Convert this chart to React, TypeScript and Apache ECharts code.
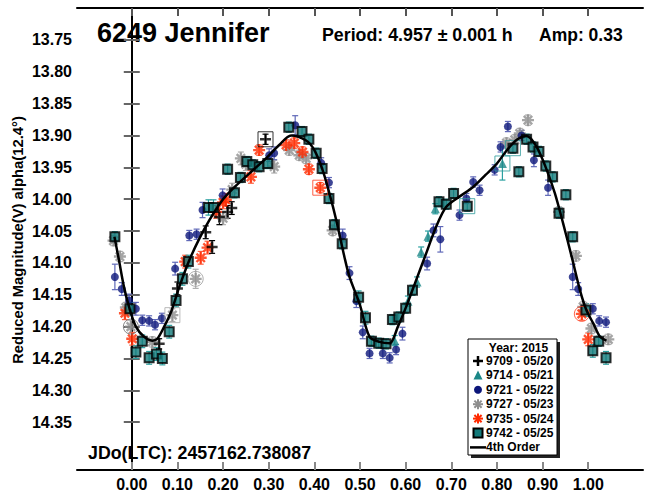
import React, { useEffect, useRef } from 'react';
import * as echarts from 'echarts';

const xTicks = [0, 0.1, 0.2, 0.3, 0.4, 0.5, 0.6, 0.7, 0.8, 0.9, 1.0];
const yTicks = [13.75, 13.8, 13.85, 13.9, 13.95, 14.0, 14.05, 14.1, 14.15, 14.2, 14.25, 14.3, 14.35];

// [phase, magnitude, error]
const s9709 = [
  [0.06, 14.227, 0.008], [0.1, 14.14, 0.01], [0.162, 14.052, 0.01], [0.176, 14.075, 0.01],
  [0.192, 14.028, 0.012], [0.21, 14.02, 0.01], [0.219, 14.014, 0.01], [0.293, 13.906, 0.008],
];
const s9714 = [
  [0.576, 14.222, 0.008], [0.605, 14.16, 0.008], [0.625, 14.13, 0.008], [0.634, 14.083, 0.008],
  [0.649, 14.058, 0.008], [0.665, 14.015, 0.008], [0.812, 13.944, 0.026],
];
const s9721 = [
  [-0.037, 14.122, 0.02], [-0.022, 14.141, 0.01], [-0.006, 14.159, 0.01], [0.009, 14.172, 0.01],
  [0.023, 14.19, 0.008], [0.038, 14.191, 0.008], [0.051, 14.197, 0.008], [0.066, 14.187, 0.008],
  [0.095, 14.109, 0.01], [0.126, 14.057, 0.008], [0.142, 14.055, 0.008], [0.155, 14.017, 0.012],
  [0.199, 13.994, 0.01], [0.301, 13.931, 0.01], [0.312, 13.928, 0.01], [0.358, 13.884, 0.015],
  [0.415, 13.943, 0.008], [0.432, 13.974, 0.008], [0.462, 14.057, 0.01], [0.477, 14.116, 0.01],
  [0.492, 14.16, 0.01], [0.506, 14.209, 0.01], [0.521, 14.242, 0.008], [0.55, 14.242, 0.008],
  [0.565, 14.249, 0.008], [0.579, 14.236, 0.008], [0.593, 14.211, 0.01], [0.647, 14.101, 0.01],
  [0.661, 14.049, 0.01], [0.676, 14.063, 0.02], [0.718, 14.025, 0.008], [0.733, 13.999, 0.008],
  [0.748, 13.973, 0.008], [0.762, 13.986, 0.008], [0.795, 13.954, 0.008], [0.808, 13.918, 0.008],
  [0.824, 13.886, 0.008], [0.854, 13.9, 0.008], [0.881, 13.939, 0.01], [0.912, 13.982, 0.012],
  [0.966, 14.122, 0.02], [0.978, 14.141, 0.01], [1.01, 14.172, 0.008], [1.024, 14.191, 0.008],
  [1.039, 14.193, 0.008],
];
const s9727 = [
  [-0.04, 14.065, 0.008], [-0.026, 14.09, 0.008], [-0.013, 14.17, 0.008], [-0.002, 14.2, 0.01],
  [0.045, 14.224, 0.008], [0.089, 14.182, 0.01], [0.14, 14.125, 0.015], [0.2, 14.03, 0.01],
  [0.22, 13.985, 0.01], [0.239, 13.936, 0.01], [0.25, 13.945, 0.01], [0.312, 13.949, 0.01],
  [0.345, 13.923, 0.008], [0.367, 13.931, 0.008], [0.382, 13.936, 0.008], [0.44, 14.049, 0.008],
  [0.821, 13.912, 0.008], [0.839, 13.907, 0.008], [0.85, 13.897, 0.008], [0.868, 13.876, 0.008],
  [0.936, 14.02, 0.008], [0.973, 14.089, 0.008], [0.989, 14.169, 0.008], [1.007, 14.203, 0.008],
  [1.044, 14.22, 0.008],
];
const s9735 = [
  [-0.015, 14.179, 0.01], [0.001, 14.219, 0.01], [0.117, 14.098, 0.01], [0.151, 14.092, 0.01],
  [0.166, 14.076, 0.01], [0.185, 14.02, 0.01], [0.2, 14.005, 0.01], [0.206, 14.001, 0.01],
  [0.261, 13.965, 0.01], [0.279, 13.923, 0.008], [0.338, 13.915, 0.008], [0.356, 13.912, 0.008],
  [0.374, 13.926, 0.008], [0.388, 13.953, 0.008], [0.413, 13.982, 0.008], [0.986, 14.18, 0.01],
  [1.0, 14.22, 0.01],
];
const s9742 = [
  [-0.037, 14.059, 0.008], [-0.004, 14.172, 0.01], [0.009, 14.24, 0.01], [0.023, 14.223, 0.01],
  [0.038, 14.249, 0.01], [0.054, 14.243, 0.01], [0.067, 14.25, 0.01], [0.082, 14.208, 0.01],
  [0.097, 14.159, 0.01], [0.111, 14.125, 0.01], [0.124, 14.098, 0.01], [0.168, 14.013, 0.012],
  [0.179, 14.013, 0.012], [0.21, 13.953, 0.008], [0.225, 13.99, 0.008], [0.238, 13.966, 0.008],
  [0.252, 13.941, 0.008], [0.265, 13.946, 0.008], [0.279, 13.949, 0.008], [0.298, 13.944, 0.008],
  [0.344, 13.887, 0.008], [0.373, 13.894, 0.008], [0.388, 13.906, 0.008], [0.404, 13.928, 0.008],
  [0.417, 13.952, 0.008], [0.432, 13.999, 0.008], [0.444, 14.04, 0.008], [0.461, 14.07, 0.008],
  [0.497, 14.154, 0.01], [0.512, 14.186, 0.01], [0.525, 14.223, 0.008], [0.541, 14.226, 0.008],
  [0.557, 14.227, 0.008], [0.571, 14.189, 0.008], [0.585, 14.185, 0.008], [0.6, 14.171, 0.008],
  [0.615, 14.143, 0.008], [0.673, 14.004, 0.008], [0.689, 14.008, 0.008], [0.705, 13.991, 0.008],
  [0.735, 14.011, 0.008], [0.835, 13.92, 0.008], [0.848, 13.957, 0.008], [0.865, 13.906, 0.008],
  [0.879, 13.918, 0.008], [0.892, 13.925, 0.008], [0.907, 13.948, 0.008], [0.922, 13.965, 0.008],
  [0.936, 14.022, 0.008], [0.951, 13.993, 0.008], [0.966, 14.059, 0.008], [0.995, 14.174, 0.01],
  [1.01, 14.238, 0.01], [1.023, 14.223, 0.008], [1.039, 14.249, 0.01],
];
const openSquares = [[0.293, 13.906], [0.089, 14.182], [0.413, 13.982], [0.812, 13.944], [0.735, 14.011], [0.835, 13.92]];
const openSquareColors = ['#000000', '#aaaaaa', '#ff3a1a', '#2a9a9a', '#2a9a9a', '#2a9a9a'];
const openCircles = [[-0.002, 14.2], [0.14, 14.125], [0.986, 14.18]];
const openCircleColors = ['#666666', '#999999', '#ff3a1a'];

const fitCurve = [
  [-0.038, 14.059], [-0.028, 14.096], [-0.017, 14.138], [-0.006, 14.169], [0.009, 14.2], [0.027, 14.216],
  [0.045, 14.222], [0.056, 14.219], [0.071, 14.2], [0.086, 14.177], [0.104, 14.138], [0.126, 14.096],
  [0.148, 14.062], [0.17, 14.033], [0.196, 14.004], [0.221, 13.984], [0.257, 13.96], [0.294, 13.936],
  [0.323, 13.915], [0.349, 13.9], [0.382, 13.908], [0.4, 13.923], [0.418, 13.954], [0.433, 13.991],
  [0.448, 14.033], [0.466, 14.091], [0.477, 14.122], [0.499, 14.164], [0.521, 14.216], [0.543, 14.224],
  [0.565, 14.226], [0.583, 14.2], [0.601, 14.169], [0.623, 14.127], [0.645, 14.085], [0.667, 14.043],
  [0.689, 14.012], [0.718, 13.996], [0.748, 13.981], [0.775, 13.962], [0.8, 13.944], [0.823, 13.922],
  [0.845, 13.906], [0.865, 13.901], [0.887, 13.918], [0.909, 13.954], [0.927, 13.991], [0.945, 14.038],
  [0.964, 14.091], [0.982, 14.143], [0.996, 14.174], [1.011, 14.195], [1.026, 14.216], [1.04, 14.222],
];

const legendItems = ['9709 - 05/20', '9714 - 05/21', '9721 - 05/22', '9727 - 05/23', '9735 - 05/24', '9742 - 05/25', '4th Order'];

const FONT = '"Liberation Sans", Arial, Helvetica, sans-serif';
const C_TEAL = '#137a7a';
const C_TRI = '#1b8787';
const C_NAVY = '#0c167a';
const C_GRAY = '#8e8e8e';
const C_RED = '#ff2a00';

const PLUS_PATH = 'path://M0,5L10,5M5,0L5,10';
const STAR_PATH = 'path://M0,5L10,5M5,0L5,10M1.5,1.5L8.5,8.5M8.5,1.5L1.5,8.5';

function errSeries(data: number[][], color: string, z: number) {
  return {
    type: 'custom',
    data,
    z,
    silent: true,
    encode: { x: 0, y: 1 },
    renderItem: (params: any, api: any) => {
      const x = api.value(0);
      const y = api.value(1);
      const e = api.value(2);
      const a = api.coord([x, y - e]);
      const b = api.coord([x, y + e]);
      const w = 3;
      const st = { stroke: color, lineWidth: 1.2 };
      return {
        type: 'group',
        children: [
          { type: 'line', shape: { x1: a[0], y1: a[1], x2: b[0], y2: b[1] }, style: st },
          { type: 'line', shape: { x1: a[0] - w, y1: a[1], x2: a[0] + w, y2: a[1] }, style: st },
          { type: 'line', shape: { x1: b[0] - w, y1: b[1], x2: b[0] + w, y2: b[1] }, style: st },
        ],
      };
    },
  };
}

function scatter(data: number[][], symbol: string, size: number, itemStyle: any, z: number) {
  return {
    type: 'scatter',
    data: data.map((d) => [d[0], d[1]]),
    symbol,
    symbolSize: size,
    itemStyle,
    z,
    silent: true,
  };
}

export default function App() {
  const ref = useRef<HTMLDivElement>(null);
  useEffect(() => {
    const chart = echarts.init(ref.current!, null, { renderer: 'svg' });
    const axisLabelStyle = { fontFamily: FONT, fontWeight: 'bold', fontSize: 16, color: '#000' };

    // legend graphics
    const lx = 468, ly = 339, lw = 89, lh = 116;
    const symX = 478, txtX = 486, row0 = 361, rowH = 14.4;
    const legendChildren: any[] = [
      { type: 'rect', shape: { x: lx + 3, y: ly + 3, width: lw, height: lh }, style: { fill: '#222' } },
      { type: 'rect', shape: { x: lx, y: ly, width: lw, height: lh }, style: { fill: '#fff', stroke: '#000', lineWidth: 1 } },
      { type: 'text', x: lx + lw / 2 + 6, y: ly + 9, style: { text: 'Year: 2015', fontFamily: FONT, fontWeight: 'bold', fontSize: 12, fill: '#000', textAlign: 'center', textVerticalAlign: 'middle' } },
    ];
    legendItems.forEach((t, i) => {
      const cy = row0 + i * rowH;
      legendChildren.push({ type: 'text', x: txtX, y: cy, style: { text: t, fontFamily: FONT, fontWeight: 'bold', fontSize: 12, fill: '#000', textAlign: 'left', textVerticalAlign: 'middle' } });
    });
    const r = (i: number) => row0 + i * rowH;
    legendChildren.push(
      { type: 'line', shape: { x1: symX - 5, y1: r(0), x2: symX + 5, y2: r(0) }, style: { stroke: '#000', lineWidth: 2.5 } },
      { type: 'line', shape: { x1: symX, y1: r(0) - 5, x2: symX, y2: r(0) + 5 }, style: { stroke: '#000', lineWidth: 2.5 } },
      { type: 'polygon', shape: { points: [[symX, r(1) - 5], [symX + 4.5, r(1) + 4], [symX - 4.5, r(1) + 4]] }, style: { fill: C_TRI } },
      { type: 'circle', shape: { cx: symX, cy: r(2), r: 4 }, style: { fill: C_NAVY } },
    );
    [[3, C_GRAY], [4, C_RED]].forEach(([i, c]: any) => {
      const cy = r(i);
      [[-5, 0, 5, 0], [0, -5, 0, 5], [-3.6, -3.6, 3.6, 3.6], [3.6, -3.6, -3.6, 3.6]].forEach((s) => {
        legendChildren.push({ type: 'line', shape: { x1: symX + s[0], y1: cy + s[1], x2: symX + s[2], y2: cy + s[3] }, style: { stroke: c, lineWidth: 2 } });
      });
    });
    legendChildren.push(
      { type: 'rect', shape: { x: symX - 4.5, y: r(5) - 4.5, width: 9, height: 9 }, style: { fill: C_TEAL, stroke: '#000', lineWidth: 2 } },
      { type: 'line', shape: { x1: 470, y1: r(6), x2: 486, y2: r(6) }, style: { stroke: '#000', lineWidth: 2.5 } },
    );

    const option: any = {
      animation: false,
      backgroundColor: '#fff',
      grid: { left: 77, top: 8, width: 566, height: 462, show: false },
      xAxis: [
        {
          type: 'value', min: -0.12, max: 1.12, position: 'bottom',
          axisLine: { show: true, lineStyle: { color: '#000', width: 2 } },
          axisTick: { show: true, inside: true, length: 8, lineStyle: { color: '#888', width: 2 }, customValues: xTicks },
          axisLabel: { show: true, customValues: xTicks, formatter: (v: number) => v.toFixed(2), margin: 6, ...axisLabelStyle },
          splitLine: { show: false },
        },
        {
          type: 'value', min: -0.12, max: 1.12, position: 'top',
          axisLine: { show: true, lineStyle: { color: '#000', width: 2 } },
          axisTick: { show: true, inside: true, length: 8, lineStyle: { color: '#555', width: 2 }, customValues: xTicks },
          axisLabel: { show: false },
          splitLine: { show: false },
        },
      ],
      yAxis: [
        {
          type: 'value', min: 13.7, max: 14.425, inverse: true, position: 'left',
          axisLine: { show: true, lineStyle: { color: '#000', width: 2 } },
          axisTick: { show: true, inside: true, length: 8, lineStyle: { color: '#666', width: 2 }, customValues: yTicks },
          axisLabel: { show: true, customValues: yTicks, formatter: (v: number) => v.toFixed(2), margin: 5, ...axisLabelStyle },
          splitLine: { show: false },
        },
        {
          type: 'value', min: 13.7, max: 14.425, inverse: true, position: 'right',
          axisLine: { show: true, lineStyle: { color: '#000', width: 2 } },
          axisTick: { show: true, inside: true, length: 8, lineStyle: { color: '#666', width: 2 }, customValues: yTicks },
          axisLabel: { show: false },
          splitLine: { show: false },
        },
      ],
      series: [
        errSeries(s9727, '#b0b0b0', 2),
        errSeries(s9735, '#ff6040', 2),
        errSeries(s9721, '#5f68b8', 2),
        errSeries(s9714, '#2aa0a0', 2),
        errSeries(s9742, '#2aa0a0', 2),
        errSeries(s9709, '#000', 2),
        scatter(s9727, STAR_PATH, 12, { color: 'rgba(0,0,0,0)', borderColor: C_GRAY, borderWidth: 2.4 }, 3),
        scatter(s9735, STAR_PATH, 12, { color: 'rgba(0,0,0,0)', borderColor: C_RED, borderWidth: 2.4 }, 3),
        scatter(s9721, 'circle', 8, { color: C_NAVY }, 4),
        scatter(s9714, 'triangle', 9, { color: C_TRI }, 4),
        scatter(s9742, 'rect', 9, { color: C_TEAL, borderColor: '#000', borderWidth: 2 }, 5),
        scatter(s9709, PLUS_PATH, 11, { color: 'rgba(0,0,0,0)', borderColor: '#000', borderWidth: 2.5 }, 6),
        {
          type: 'scatter', z: 6, silent: true, symbol: 'rect', symbolSize: 15,
          data: openSquares.map((d, i) => ({ value: d, itemStyle: { color: 'rgba(0,0,0,0)', borderColor: openSquareColors[i], borderWidth: 1 } })),
        },
        {
          type: 'scatter', z: 6, silent: true, symbol: 'circle', symbolSize: 15,
          data: openCircles.map((d, i) => ({ value: d, itemStyle: { color: 'rgba(0,0,0,0)', borderColor: openCircleColors[i], borderWidth: 1 } })),
        },
        {
          type: 'line', data: fitCurve, smooth: 0.3, showSymbol: false, symbol: 'none', z: 8, silent: true,
          lineStyle: { color: '#000', width: 2.5 },
        },
      ],
      graphic: [
        { type: 'text', x: 97, y: 33, style: { text: '6249 Jennifer', fontFamily: FONT, fontWeight: 'bold', fontSize: 27, fill: '#000', textVerticalAlign: 'middle' } },
        { type: 'text', x: 322, y: 35, style: { text: 'Period: 4.957 ± 0.001 h', fontFamily: FONT, fontWeight: 'bold', fontSize: 17.8, fill: '#000', textVerticalAlign: 'middle' } },
        { type: 'text', x: 539, y: 35, style: { text: 'Amp: 0.33', fontFamily: FONT, fontWeight: 'bold', fontSize: 17.5, fill: '#000', textVerticalAlign: 'middle' } },
        { type: 'text', x: 88, y: 453, style: { text: 'JDo(LTC): 2457162.738087', fontFamily: FONT, fontWeight: 'bold', fontSize: 17.8, fill: '#000', textVerticalAlign: 'middle' } },
        { type: 'text', x: 18, y: 240, rotation: Math.PI / 2, style: { text: 'Reduced Magnitude(V) alpha(12.4°)', fontFamily: FONT, fontWeight: 'bold', fontSize: 14.8, fill: '#000', textAlign: 'center', textVerticalAlign: 'middle' } },
        { type: 'group', z: 100, children: legendChildren },
      ],
    };
    chart.setOption(option);
    return () => chart.dispose();
  }, []);
  return <div ref={ref} style={{ position: 'fixed', left: 0, top: 0, width: 647, height: 492, background: '#fff' }} />;
}
